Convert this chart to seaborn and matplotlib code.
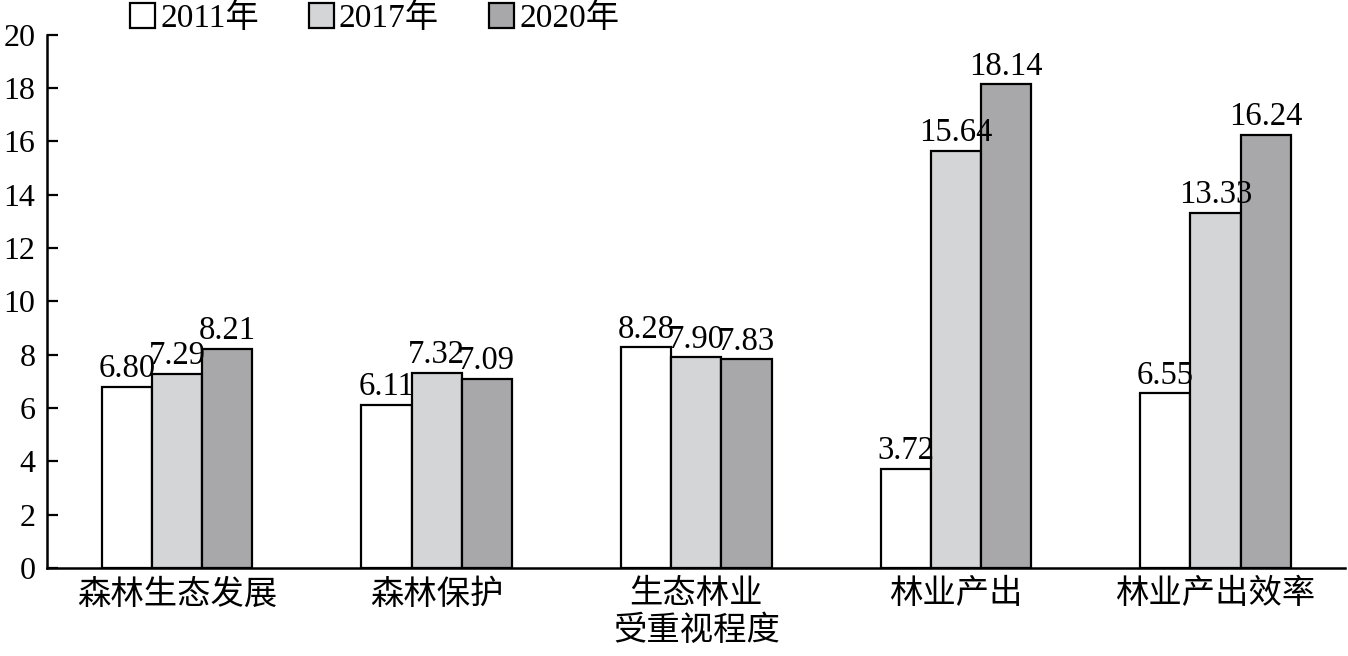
import pandas as pd
import matplotlib.pyplot as plt
import seaborn as sns

categories = ["森林生态发展", "森林保护", "生态林业\n受重视程度", "林业产出", "林业产出效率"]
years = ["2011年", "2017年", "2020年"]
v2011 = [6.80, 6.11, 8.28, 3.72, 6.55]
v2017 = [7.29, 7.32, 7.90, 15.64, 13.33]
v2020 = [8.21, 7.09, 7.83, 18.14, 16.24]

df = pd.DataFrame({
    "category": categories * 3,
    "year": [years[0]] * 5 + [years[1]] * 5 + [years[2]] * 5,
    "value": v2011 + v2017 + v2020,
})

sns.set_style("ticks")
plt.rcParams["font.family"] = ["Liberation Serif", "Noto Sans CJK SC"]
plt.rcParams["font.size"] = 23
plt.rcParams["text.color"] = "black"
plt.rcParams["xtick.color"] = "black"
plt.rcParams["ytick.color"] = "black"

fig = plt.figure(figsize=(13.48, 6.56), dpi=100)
ax = fig.add_axes([0.035, 0.134, 0.963, 0.813])
sns.barplot(data=df, x="category", y="value", hue="year",
            palette=["#ffffff", "#d4d5d7", "#a7a8ab"],
            edgecolor="black", linewidth=1.6, width=0.58, ax=ax)

for cont in ax.containers:
    ax.bar_label(cont, fmt="%.2f", padding=2, fontsize=23.5)

ax.set_ylim(0, 20)
ax.set_xlim(-0.5, 4.5)
ax.set_yticks(range(0, 21, 2))
ax.set_xlabel("")
ax.set_ylabel("")
ax.tick_params(axis="y", direction="in", length=8, width=1.6, pad=8.5, labelsize=23)
ax.tick_params(axis="x", length=0, pad=8, labelsize=24)
for s in ["top", "right"]:
    ax.spines[s].set_visible(False)
for s in ["left", "bottom"]:
    ax.spines[s].set_linewidth(1.8)
    ax.spines[s].set_color("black")

handles, labels = ax.get_legend_handles_labels()
ax.legend(handles, labels, ncol=3, frameon=False, fontsize=24,
          loc="center", bbox_to_anchor=(0.278, 0.972), bbox_transform=fig.transFigure,
          handlelength=0.75, handleheight=0.75, handletextpad=0.15, columnspacing=1.5)

fig.savefig("out.png", dpi=100)
